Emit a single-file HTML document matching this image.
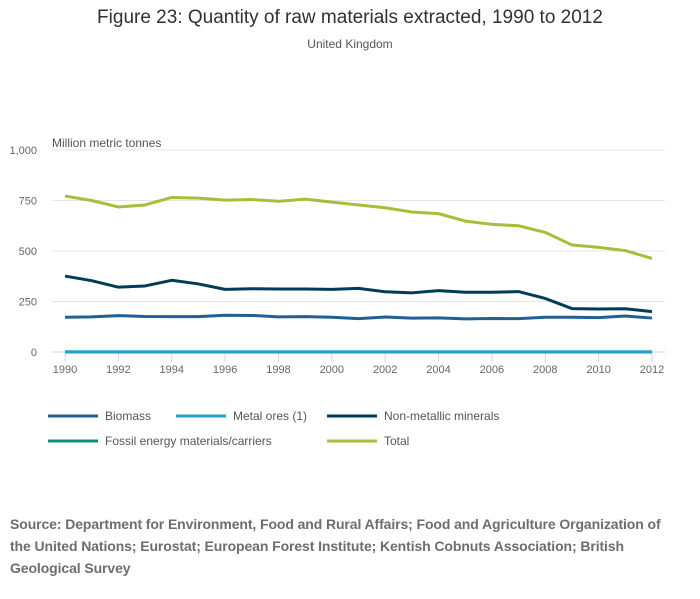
<!DOCTYPE html>
<html><head><meta charset="utf-8"><style>
body{margin:0;background:#fff;font-family:"Liberation Sans",sans-serif;}
#wrap{position:relative;width:700px;height:599px;overflow:hidden;}
.t{position:absolute;white-space:nowrap;}
</style></head><body>
<div id="wrap">
<div class="t" style="left:0;width:700px;text-align:center;top:7px;font-size:19px;color:#323132;">Figure 23: Quantity of raw materials extracted, 1990 to 2012</div>
<div class="t" style="left:0;width:700px;text-align:center;top:37px;font-size:12px;color:#555;">United Kingdom</div>
<svg id="svg" width="700" height="599" style="position:absolute;left:0;top:0"></svg>
<div class="t" style="left:10px;top:513px;font-size:14px;font-weight:bold;color:#6d6d6d;line-height:22px;white-space:normal;width:670px;letter-spacing:-0.1px;">Source: Department for Environment, Food and Rural Affairs; Food and Agriculture Organization of the United Nations; Eurostat; European Forest Institute; Kentish Cobnuts Association; British Geological Survey</div>
</div>
<script>
const years=[1990,1991,1992,1993,1994,1995,1996,1997,1998,1999,2000,2001,2002,2003,2004,2005,2006,2007,2008,2009,2010,2011,2012];
const biomass=[172,174,180,176,175,175,182,181,174,175,172,165,173,168,169,164,166,165,172,172,170,178,168];
const metalOres=[1,1,1,1,1,1,1,1,1,1,1,1,1,1,1,1,1,1,1,1,1,1,1];
const nonMetallic=[376,353,321,327,355,337,310,313,312,312,310,315,298,293,304,296,296,299,265,215,213,214,200];
const fossil=[0,0,0,0,0,0,0,0,0,0,0,0,0,0,0,0,0,0,0,0,0,0,0];
const total=[772,750,718,728,765,762,752,755,746,757,742,728,714,693,685,648,632,625,592,530,518,502,463];
const yTicks=[0,250,500,750,1000];
const yTickLabels=["0","250","500","750","1,000"];
const xTicks=[1990,1992,1994,1996,1998,2000,2002,2004,2006,2008,2010,2012];
const NS="http://www.w3.org/2000/svg",svg=document.getElementById('svg');
const X=v=>65+(v-1990)*(652-65)/22, Y=v=>352-v*202/1000;
function mk(t,a,p){const e=document.createElementNS(NS,t);for(const k in a)e.setAttribute(k,a[k]);(p||svg).appendChild(e);return e;}
yTicks.forEach((v,i)=>{
 const g=mk('line',{x1:52,x2:665,y1:Y(v),y2:Y(v),stroke:v==0?'#ccd6eb':'#e6e6e6','stroke-width':1});
 
 const t=mk('text',{x:37,y:Y(v)+4,'text-anchor':'end','font-size':11,fill:'#666','font-family':'Liberation Sans'});
 t.textContent=yTickLabels[i];
});
const yt=mk('text',{x:52,y:147,'font-size':12,fill:'#555','font-family':'Liberation Sans'});yt.textContent='Million metric tonnes';

xTicks.forEach(v=>{
 const l=mk('line',{x1:X(v),x2:X(v),y1:352,y2:362,stroke:'#ccd6eb'});
 const t=mk('text',{x:X(v),y:373,'text-anchor':'middle','font-size':11,fill:'#666','font-family':'Liberation Sans'});
 t.textContent=v;
});
const series=[['fossil-energy',fossil,'#118c7b'],['biomass',biomass,'#206095'],['metal-ores',metalOres,'#27a0cc'],['non-metallic-minerals',nonMetallic,'#003c57'],['total',total,'#a8bd3a']];
series.forEach(s=>{
 const p=mk('polyline',{points:years.map((y,i)=>X(y)+','+Y(s[1][i])).join(' '),fill:'none',stroke:s[2],'stroke-width':3,'stroke-linejoin':'round'});
 
});
const leg=[['Biomass','#206095',48,418],['Metal ores (1)','#27a0cc',176,418],['Non-metallic minerals','#003c57',327,418],['Fossil energy materials/carriers','#118c7b',48,443],['Total','#a8bd3a',327,443]];
leg.forEach(l=>{
 const g=mk('g',{});
 mk('line',{x1:l[2],x2:l[2]+50,y1:l[3]-2,y2:l[3]-2,stroke:l[1],'stroke-width':3},g);
 const t=mk('text',{x:l[2]+57,y:l[3]+2,'font-size':12,fill:'#555','font-family':'Liberation Sans'},g);t.textContent=l[0];
});
</script>
</body></html>
